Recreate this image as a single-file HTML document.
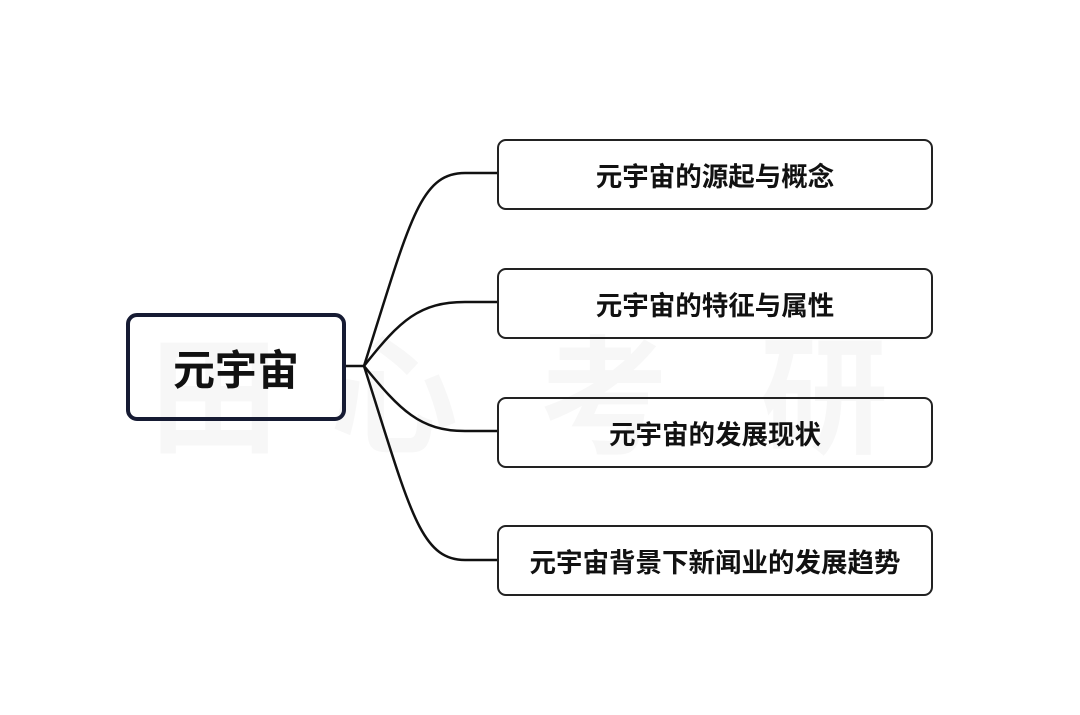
<!DOCTYPE html>
<html><head><meta charset="utf-8"><style>
html,body{margin:0;padding:0;background:#fff;}
body{width:1080px;height:715px;position:relative;overflow:hidden;font-family:"Liberation Sans","Noto Sans CJK SC",sans-serif;}
.wm{position:absolute;top:295px;font-size:128px;color:#f7f7f7;font-weight:bold;}
.root{position:absolute;left:126px;top:313px;width:212px;height:100px;border:4px solid #161b33;border-radius:11px;display:flex;align-items:center;justify-content:center;font-size:42px;font-weight:bold;color:#111;box-sizing:content-box;}
.n{position:absolute;left:497px;width:432px;height:67px;border:2px solid #222;border-radius:9px;display:flex;align-items:center;justify-content:center;font-size:26.5px;font-weight:bold;color:#111;}
</style></head><body>
<div class="wm" style="left:150px">田</div>
<div class="wm" style="left:330px">心</div>
<div class="wm" style="left:540px">考</div>
<div class="wm" style="left:760px">研</div>
<svg width="1080" height="715" style="position:absolute;left:0;top:0">
<g fill="none" stroke="#111" stroke-width="2.5">
<path d="M346 366 H364"/>
<path d="M364 366 C410 220 420 173 465 173 H497"/>
<path d="M364 366 C400 320 420 302 465 302 H497"/>
<path d="M364 366 C400 410 420 431 465 431 H497"/>
<path d="M364 366 C410 510 420 560 465 560 H497"/>
</g></svg>
<div class="root">元宇宙</div>
<div class="n" style="top:139px">元宇宙的源起与概念</div>
<div class="n" style="top:268px">元宇宙的特征与属性</div>
<div class="n" style="top:397px">元宇宙的发展现状</div>
<div class="n" style="top:525px">元宇宙背景下新闻业的发展趋势</div>
</body></html>
